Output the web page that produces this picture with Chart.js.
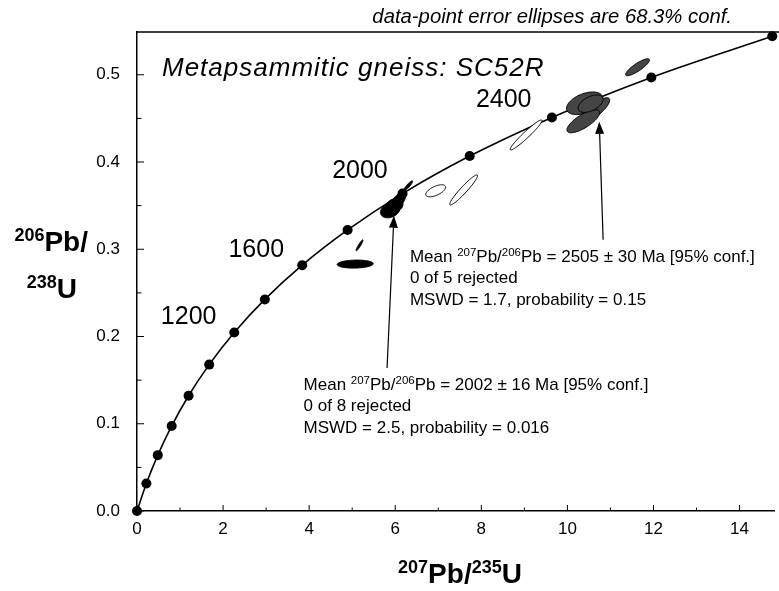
<!DOCTYPE html>
<html>
<head>
<meta charset="utf-8">
<script src="https://cdn.jsdelivr.net/npm/chart.js@4.4.1/dist/chart.umd.min.js"></script>
<style>
  html, body { margin: 0; padding: 0; background: #fff; }
  canvas { display: block; }
</style>
</head>
<body>
<canvas id="chart" width="779" height="591"></canvas>
<script>
const FONT = "'Liberation Sans', Arial, sans-serif";

// concordia reference points, every 200 Ma from 0 to 2800 Ma
const concordiaAges = [0, 200, 400, 600, 800, 1000, 1200, 1400, 1600, 1800, 2000, 2200, 2400, 2600, 2800];
const concordiaX = [0, 0.218, 0.483, 0.806, 1.198, 1.677, 2.260, 2.970, 3.838, 4.893, 6.170, 7.730, 9.640, 11.950, 14.760];
const concordiaY = [0, 0.0315, 0.0640, 0.0975, 0.1321, 0.1678, 0.2046, 0.2425, 0.2817, 0.3221, 0.3638, 0.4068, 0.4511, 0.4969, 0.5441];

// age labels along the curve
const ageLabels = ['1200', '1600', '2000', '2400'];
const ageLabelX = [1.20, 2.77, 5.18, 8.52];
const ageLabelY = [0.2225, 0.299, 0.389, 0.471];

// data-point error ellipses: centre, half extent in x / y, correlation
// group: f = filled black (2000 Ma set), g = filled grey (2505 Ma set), o = open
const ellX   = [5.07, 5.17, 5.88, 6.08, 5.98, 6.30, 6.94, 7.59, 9.04, 10.40, 10.66, 10.37, 10.54, 11.63];
const ellY   = [0.283, 0.3045, 0.3445, 0.3560, 0.3500, 0.3727, 0.367, 0.368, 0.431, 0.4673, 0.4599, 0.4467, 0.4668, 0.5086];
const ellSx  = [0.42, 0.081, 0.225, 0.160, 0.200, 0.104, 0.231, 0.323, 0.37, 0.420, 0.323, 0.381, 0.290, 0.277];
const ellSy  = [0.0046, 0.0063, 0.0085, 0.0095, 0.0080, 0.0057, 0.0069, 0.0172, 0.0172, 0.0130, 0.0138, 0.0132, 0.0100, 0.0097];
const ellRho = [0.1, 0.93, 0.25, 0.55, 0.2, 0.9, 0.6, 0.95, 0.96, 0.45, 0.8, 0.75, 0.5, 0.85];
const ellGroup = ['f', 'f', 'f', 'f', 'f', 'f', 'o', 'o', 'o', 'g', 'g', 'g', 'g', 'g'];

// arrows from the result boxes to the ellipse groups
const arrowTailX = [10.83, 5.81];
const arrowTailY = [0.3108, 0.164];
const arrowTipX = [10.74, 5.97];
const arrowTipY = [0.4461, 0.3383];

// result text blocks ('^' marks a superscript)
const noteX = [6.34, 3.87];
const noteY = [0.2855, 0.1388];
const noteLines = [
  ['Mean ^207Pb/^206Pb = 2505 ± 30 Ma [95% conf.]', '0 of 5 rejected', 'MSWD = 1.7, probability = 0.15'],
  ['Mean ^207Pb/^206Pb = 2002 ± 16 Ma [95% conf.]', '0 of 8 rejected', 'MSWD = 2.5, probability = 0.016'],
];

const sampleTitle = 'Metapsammitic gneiss: SC52R';
const ellipseNote = 'data-point error ellipses are 68.3% conf.';
const xTitle = '^207Pb/^235U';
const yTitle = ['^206Pb/', '^238U'];

function parseRich(str) {
  const parts = [];
  const re = /\^(\d+)|[^^]+/g;
  let m;
  while ((m = re.exec(str))) {
    if (m[1]) parts.push({ text: m[1], sup: true });
    else parts.push({ text: m[0], sup: false });
  }
  return parts;
}

function richFont(f, sup) {
  return `${f.style || 'normal'} ${f.weight || 'normal'} ${sup ? f.supSize : f.size}px ${FONT}`;
}

function measureRich(ctx, str, f) {
  let w = 0;
  parseRich(str).forEach(p => {
    ctx.font = richFont(f, p.sup);
    w += ctx.measureText(p.text).width;
  });
  return w;
}

function drawRich(ctx, str, x, y, f) {
  let cx = x;
  parseRich(str).forEach(p => {
    ctx.font = richFont(f, p.sup);
    ctx.fillText(p.text, cx, p.sup ? y - f.raise : y);
    cx += ctx.measureText(p.text).width;
  });
}

const decorations = {
  id: 'decorations',
  beforeDatasetsDraw(chart) {
    const { ctx, chartArea, scales } = chart;
    const xs = scales.x, ys = scales.y;
    ctx.save();
    ctx.strokeStyle = '#000';
    ctx.lineWidth = 1.5;
    // top frame line
    ctx.beginPath();
    ctx.moveTo(chartArea.left, chartArea.top);
    ctx.lineTo(chart.width, chartArea.top);
    ctx.stroke();
    // inward tick marks
    ctx.lineWidth = 1;
    xs.ticks.forEach(t => {
      const px = xs.getPixelForValue(t.value);
      const len = Math.round(t.value) % 2 === 0 ? 6 : 3.5;
      ctx.beginPath();
      ctx.moveTo(px, chartArea.bottom);
      ctx.lineTo(px, chartArea.bottom - len);
      ctx.stroke();
    });
    ys.ticks.forEach(t => {
      const py = ys.getPixelForValue(t.value);
      const major = Math.abs(t.value * 10 - Math.round(t.value * 10)) < 1e-6;
      ctx.beginPath();
      ctx.moveTo(chartArea.left, py);
      ctx.lineTo(chartArea.left + (major ? 7 : 4.5), py);
      ctx.stroke();
    });
    ctx.restore();
  },
  afterDatasetsDraw(chart) {
    const { ctx, chartArea, scales } = chart;
    const xs = scales.x, ys = scales.y;
    ctx.save();

    // error ellipses
    ellX.forEach((cx, i) => {
      const r = ellRho[i], q = Math.sqrt(1 - r * r);
      ctx.beginPath();
      for (let k = 0; k <= 90; k++) {
        const t = (k / 90) * Math.PI * 2;
        const px = xs.getPixelForValue(cx + ellSx[i] * Math.cos(t));
        const py = ys.getPixelForValue(ellY[i] + ellSy[i] * (r * Math.cos(t) + q * Math.sin(t)));
        if (k) ctx.lineTo(px, py); else ctx.moveTo(px, py);
      }
      ctx.closePath();
      ctx.fillStyle = ellGroup[i] === 'f' ? '#000' : ellGroup[i] === 'g' ? '#444' : '#fff';
      ctx.fill();
      ctx.lineWidth = 1;
      ctx.strokeStyle = '#000';
      ctx.stroke();
    });

    // arrows
    ctx.fillStyle = '#000';
    arrowTipX.forEach((tx, i) => {
      const x1 = xs.getPixelForValue(arrowTailX[i]), y1 = ys.getPixelForValue(arrowTailY[i]);
      const x2 = xs.getPixelForValue(tx), y2 = ys.getPixelForValue(arrowTipY[i]);
      const a = Math.atan2(y2 - y1, x2 - x1);
      const len = 12, hw = 4.5;
      const bx = x2 - len * Math.cos(a), by = y2 - len * Math.sin(a);
      ctx.lineWidth = 1.2;
      ctx.beginPath();
      ctx.moveTo(x1, y1);
      ctx.lineTo(bx, by);
      ctx.stroke();
      ctx.beginPath();
      ctx.moveTo(x2, y2);
      ctx.lineTo(bx + hw * Math.sin(a), by - hw * Math.cos(a));
      ctx.lineTo(bx - hw * Math.sin(a), by + hw * Math.cos(a));
      ctx.closePath();
      ctx.fill();
    });

    // age labels
    ctx.fillStyle = '#000';
    ctx.textAlign = 'center';
    ctx.textBaseline = 'middle';
    ctx.font = `25px ${FONT}`;
    ageLabels.forEach((lab, i) => {
      ctx.fillText(lab, xs.getPixelForValue(ageLabelX[i]), ys.getPixelForValue(ageLabelY[i]));
    });

    // result text blocks
    ctx.textAlign = 'left';
    ctx.textBaseline = 'alphabetic';
    const noteFont = { size: 17, supSize: 11.5, raise: 6 };
    noteLines.forEach((lines, i) => {
      const x0 = xs.getPixelForValue(noteX[i]);
      const y0 = ys.getPixelForValue(noteY[i]);
      lines.forEach((line, j) => drawRich(ctx, line, x0, y0 + j * 21.5, noteFont));
    });

    // sample name inside the plot
    ctx.font = `italic 26px ${FONT}`;
    ctx.letterSpacing = '1px';
    ctx.fillText(sampleTitle, chartArea.left + 25, chartArea.top + 44);
    ctx.letterSpacing = '0px';

    // note above the frame
    ctx.textAlign = 'right';
    ctx.font = `italic 20.3px ${FONT}`;
    ctx.fillText(ellipseNote, 732, 23);

    // axis titles
    ctx.textAlign = 'left';
    const titleFont = { weight: 'bold', size: 28, supSize: 18, raise: 10 };
    const xw = measureRich(ctx, xTitle, titleFont);
    drawRich(ctx, xTitle, 460 - xw / 2, 583, titleFont);
    const yRight = [88, 77];
    const yBase = [251, 298];
    yTitle.forEach((t, i) => {
      const w = measureRich(ctx, t, titleFont);
      drawRich(ctx, t, yRight[i] - w, yBase[i], titleFont);
    });

    ctx.restore();
  },
};

new Chart(document.getElementById('chart'), {
  type: 'scatter',
  data: {
    datasets: [
      {
        type: 'line',
        label: 'Concordia',
        data: concordiaX.map((x, i) => ({ x, y: concordiaY[i], age: concordiaAges[i] })),
        borderColor: '#000',
        borderWidth: 1.6,
        backgroundColor: '#000',
        pointRadius: 5,
        pointBackgroundColor: '#000',
        pointBorderWidth: 0,
        cubicInterpolationMode: 'monotone',
        fill: false,
        clip: false,
      },
    ],
  },
  options: {
    responsive: false,
    animation: false,
    devicePixelRatio: 1,
    layout: { padding: { top: 32, left: 0, right: 0, bottom: 0 } },
    plugins: {
      legend: { display: false },
      tooltip: { enabled: false },
    },
    scales: {
      x: {
        type: 'linear',
        min: 0,
        max: 14.8,
        afterFit: scale => { scale.height = 80; },
        grid: { display: false, drawTicks: false },
        border: { display: true, color: '#000', width: 1.5 },
        ticks: {
          stepSize: 1,
          includeBounds: false,
          autoSkip: false,
          maxRotation: 0,
          padding: 8,
          color: '#000',
          font: { family: FONT, size: 17 },
          callback: v => (Math.round(v) % 2 === 0 ? String(v) : ''),
        },
      },
      y: {
        type: 'linear',
        min: 0,
        max: 0.549,
        afterFit: scale => { scale.width = 137; },
        grid: { display: false, drawTicks: false },
        border: { display: true, color: '#000', width: 1.5 },
        ticks: {
          stepSize: 0.05,
          includeBounds: false,
          autoSkip: false,
          padding: 17,
          color: '#000',
          font: { family: FONT, size: 17 },
          callback: v => (Math.abs(v * 10 - Math.round(v * 10)) < 1e-6 ? v.toFixed(1) : ''),
        },
      },
    },
  },
  plugins: [decorations],
});
</script>
</body>
</html>
